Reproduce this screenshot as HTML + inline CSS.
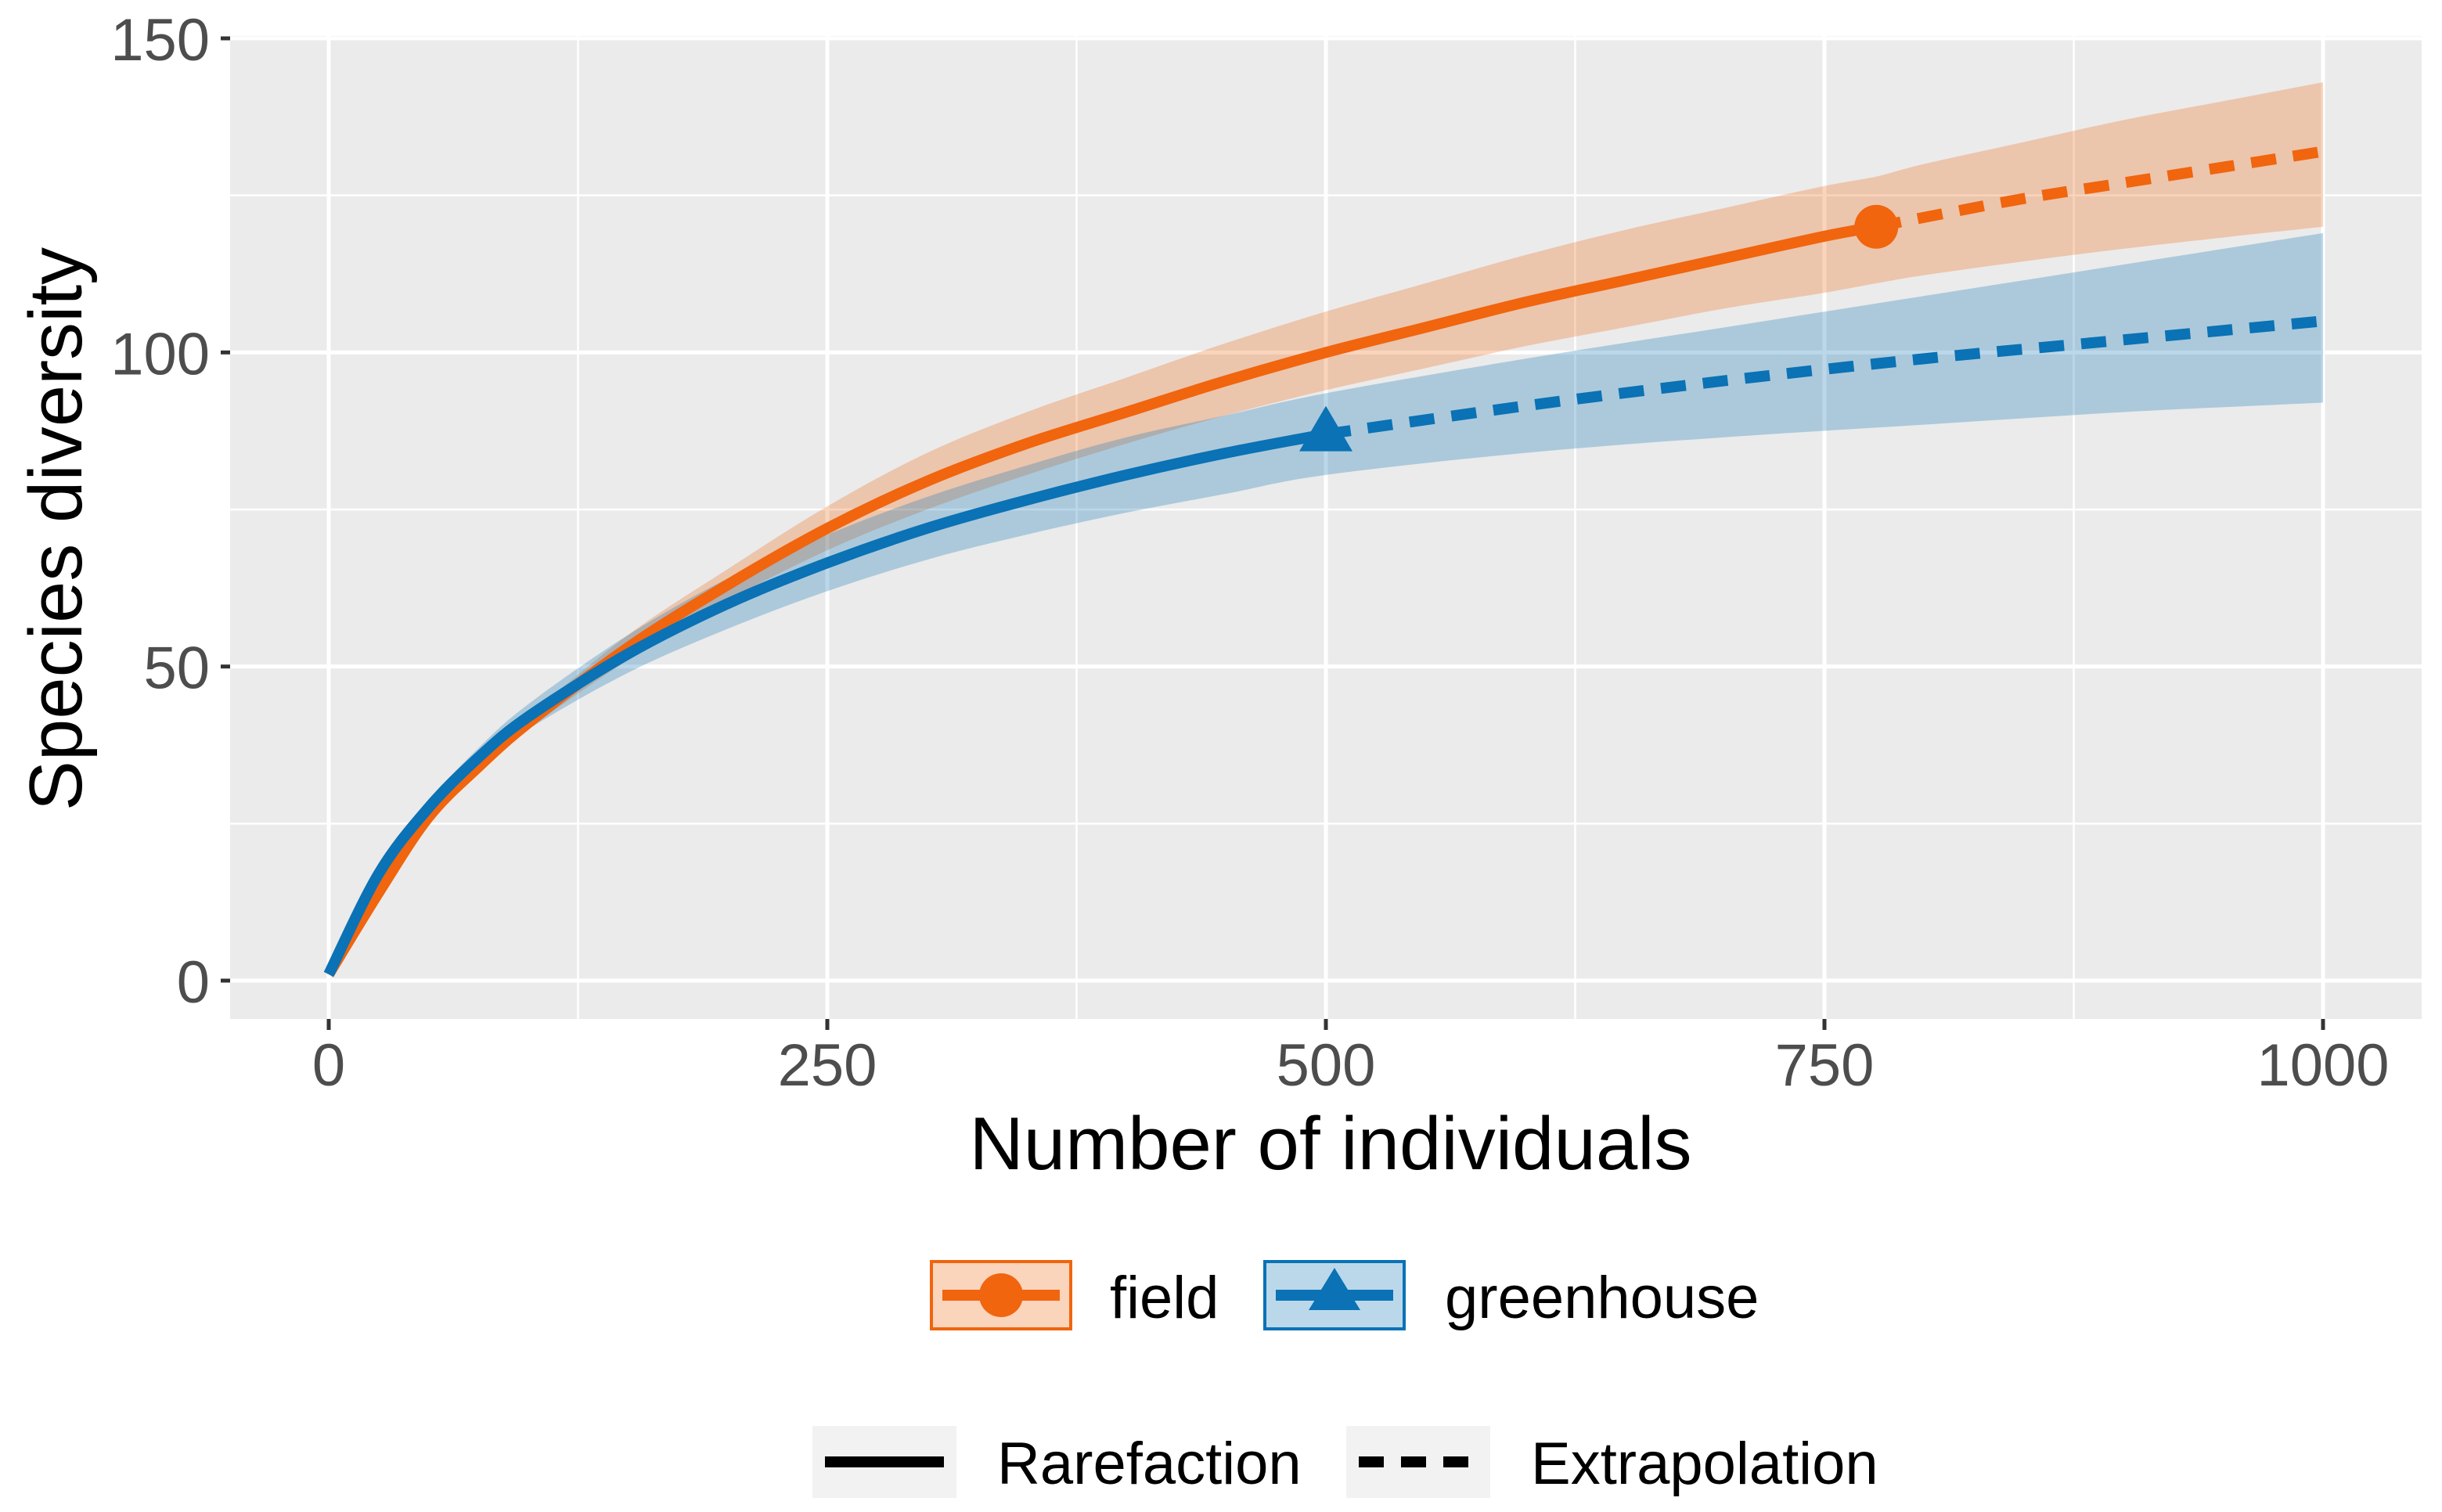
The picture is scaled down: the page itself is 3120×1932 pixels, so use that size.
<!DOCTYPE html>
<html><head><meta charset="utf-8"><style>
html,body{margin:0;padding:0;background:#fff;}
svg{display:block;font-family:"Liberation Sans",sans-serif;}
</style></head><body>
<svg id="chart" width="3120" height="1932" viewBox="0 0 3120 1932" xmlns="http://www.w3.org/2000/svg">
<rect x="294" y="46" width="2800" height="1256" fill="#EBEBEB"/>
<g id="grid"></g>
<g id="ribbons"></g>
<g id="lines"></g>
<g id="axes"></g>
<text x="1700" y="1494" font-size="96" text-anchor="middle" fill="#000">Number of individuals</text>
<text transform="translate(104,676) rotate(-90)" font-size="96" text-anchor="middle" fill="#000">Species diversity</text>
<g>
<rect x="1190" y="1612" width="178" height="86" fill="#F0650E" fill-opacity="0.28" stroke="#F0650E" stroke-width="4"/>
<line x1="1204" y1="1655" x2="1354" y2="1655" stroke="#F0650E" stroke-width="14"/>
<circle cx="1279" cy="1655" r="28" fill="#F0650E"/>
<text x="1418" y="1684" font-size="76" fill="#000">field</text>
</g>
<g>
<rect x="1616" y="1612" width="178" height="86" fill="#0A72B5" fill-opacity="0.28" stroke="#0A72B5" stroke-width="4"/>
<line x1="1630" y1="1655" x2="1780" y2="1655" stroke="#0A72B5" stroke-width="14"/>
<polygon points="1705,1620 1738,1674 1672,1674" fill="#0A72B5"/>
<text x="1846" y="1684" font-size="76" fill="#000">greenhouse</text>
</g>
<g>
<rect x="1038" y="1822" width="184" height="92" fill="#F2F2F2"/>
<line x1="1054" y1="1868" x2="1206" y2="1868" stroke="#000" stroke-width="14"/>
<text x="1274" y="1896" font-size="76" fill="#000">Rarefaction</text>
</g>
<g>
<rect x="1720" y="1822" width="184" height="92" fill="#F2F2F2"/>
<line x1="1736" y1="1868" x2="1888" y2="1868" stroke="#000" stroke-width="14" stroke-dasharray="32,22"/>
<text x="1956" y="1896" font-size="76" fill="#000">Extrapolation</text>
</g>
</svg>
<script>
const xTicks = [0, 250, 500, 750, 1000];
const yTicks = [0, 50, 100, 150];
const xMinor = [125, 375, 625, 875];
const yMinor = [25, 75, 125];
const fieldX = [0, 25, 50, 75, 100, 150, 200, 250, 300, 350, 400, 450, 500, 550, 600, 650, 700, 750, 776, 800, 850, 900, 950, 1000];
const fieldY = [1, 14, 26, 34, 41, 53, 63, 72, 79.5, 85.5, 90.5, 95.5, 100, 104, 108, 111.5, 115, 118.5, 120, 121.5, 124.5, 127, 129.5, 132];
const fieldLo = [1, 13.5, 25, 33, 40, 51, 60.5, 68.5, 75, 80.5, 85.5, 90, 94, 97.5, 101, 104, 107, 109.5, 111, 112.3, 114.5, 116.5, 118.3, 120];
const fieldHi = [1, 14.5, 27, 35, 42, 55, 65.5, 75.5, 84, 90.5, 96, 101.5, 106.5, 111, 115.5, 119.5, 123, 126.5, 128, 130, 133.5, 137, 140, 143];
const fieldObsN = 776;
const ghX = [0, 25, 50, 75, 100, 150, 200, 250, 300, 350, 400, 450, 500, 600, 700, 800, 900, 1000];
const ghY = [1, 17, 27.5, 35.5, 42, 52, 60, 66.5, 72, 76.5, 80.5, 84, 87, 91.5, 95.5, 99, 102, 105];
const ghLo = [1, 16.5, 26.5, 34, 40, 49, 56, 62, 67, 71, 74.5, 77.5, 80.5, 84, 86.5, 88.5, 90.5, 92];
const ghHi = [1, 17.5, 28.5, 37, 44, 55, 64, 71, 77, 82, 86.5, 90, 93.5, 99, 104, 109, 114, 119];
const ghObsN = 500;

const X0 = 420, X1 = 2968, Y0 = 1253, Y150 = 49;
const sx = v => X0 + (X1 - X0) * v / 1000;
const sy = v => Y0 - (Y0 - Y150) * v / 150;
const NS = "http://www.w3.org/2000/svg";
function mk(tag, attrs, parent) {
  const e = document.createElementNS(NS, tag);
  for (const k in attrs) e.setAttribute(k, attrs[k]);
  parent.appendChild(e);
  return e;
}
const grid = document.getElementById('grid');
const axes = document.getElementById('axes');
xMinor.forEach(v => {
  const l = mk('line', {x1: sx(v), x2: sx(v), y1: 46, y2: 1302, stroke: '#fff', 'stroke-width': 2.5}, grid);
  
  
});
yMinor.forEach(v => {
  const l = mk('line', {x1: 294, x2: 3094, y1: sy(v), y2: sy(v), stroke: '#fff', 'stroke-width': 2.5}, grid);
  
  
});
xTicks.forEach(v => {
  const l = mk('line', {x1: sx(v), x2: sx(v), y1: 46, y2: 1302, stroke: '#fff', 'stroke-width': 5}, grid);
  
  
  const t = mk('line', {x1: sx(v), x2: sx(v), y1: 1302, y2: 1316, stroke: '#333', 'stroke-width': 5}, axes);
  
  
  const tx = mk('text', {x: sx(v), y: 1387, 'font-size': 76, 'text-anchor': 'middle', fill: '#4D4D4D'}, axes);
  tx.textContent = v;
  
  
});
yTicks.forEach(v => {
  const l = mk('line', {x1: 294, x2: 3094, y1: sy(v), y2: sy(v), stroke: '#fff', 'stroke-width': 5}, grid);
  
  
  const t = mk('line', {x1: 282, x2: 294, y1: sy(v), y2: sy(v), stroke: '#333', 'stroke-width': 5}, axes);
  
  
  const tx = mk('text', {x: 268, y: sy(v) + 28, 'font-size': 76, 'text-anchor': 'end', fill: '#4D4D4D'}, axes);
  tx.textContent = v;
  
  
});
const ribbons = document.getElementById('ribbons');
const lines = document.getElementById('lines');
function smooth(pts) {
  if (pts.length < 2) return '';
  let d = 'M' + pts[0][0] + ',' + pts[0][1];
  for (let i = 0; i < pts.length - 1; i++) {
    const p0 = pts[Math.max(0, i - 1)], p1 = pts[i], p2 = pts[i + 1], p3 = pts[Math.min(pts.length - 1, i + 2)];
    const c1x = p1[0] + (p2[0] - p0[0]) / 6, c1y = p1[1] + (p2[1] - p0[1]) / 6;
    const c2x = p2[0] - (p3[0] - p1[0]) / 6, c2y = p2[1] - (p3[1] - p1[1]) / 6;
    d += ` C${c1x},${c1y} ${c2x},${c2y} ${p2[0]},${p2[1]}`;
  }
  return d;
}
function drawSeries(name, xs, ys, lo, hi, obsN, color, marker) {
  const up = xs.map((x, i) => [sx(x), sy(hi[i])]);
  const dn = xs.map((x, i) => [sx(x), sy(lo[i])]).reverse();
  const d = smooth(up) + ' L' + dn[0][0] + ',' + dn[0][1] + smooth(dn).replace(/^M[^C]*/, '') + ' Z';
  const r = mk('path', {d: d, fill: color, 'fill-opacity': 0.28}, ribbons);
  
  
  const obs = [], ext = [];
  xs.forEach((x, i) => { if (x <= obsN) obs.push([sx(x), sy(ys[i])]); if (x >= obsN) ext.push([sx(x), sy(ys[i])]); });
  const l1 = mk('path', {d: smooth(obs), fill: 'none', stroke: color, 'stroke-width': 14, 'stroke-linejoin': 'round'}, lines);
  
  
  const l2 = mk('path', {d: smooth(ext), fill: 'none', stroke: color, 'stroke-width': 14, 'stroke-dasharray': '32,22'}, lines);
  
  
  const last = obs[obs.length - 1];
  const cx = last[0], cy = last[1];
  let m;
  if (marker === 'circle') m = mk('circle', {cx: cx, cy: cy, r: 28, fill: color}, lines);
  else m = mk('polygon', {points: `${cx},${cy - 36} ${cx + 34},${cy + 22} ${cx - 34},${cy + 22}`, fill: color}, lines);
  
  
}
drawSeries('field', fieldX, fieldY, fieldLo, fieldHi, fieldObsN, '#F0650E', 'circle');
drawSeries('greenhouse', ghX, ghY, ghLo, ghHi, ghObsN, '#0A72B5', 'triangle');
</script>
</body></html>
